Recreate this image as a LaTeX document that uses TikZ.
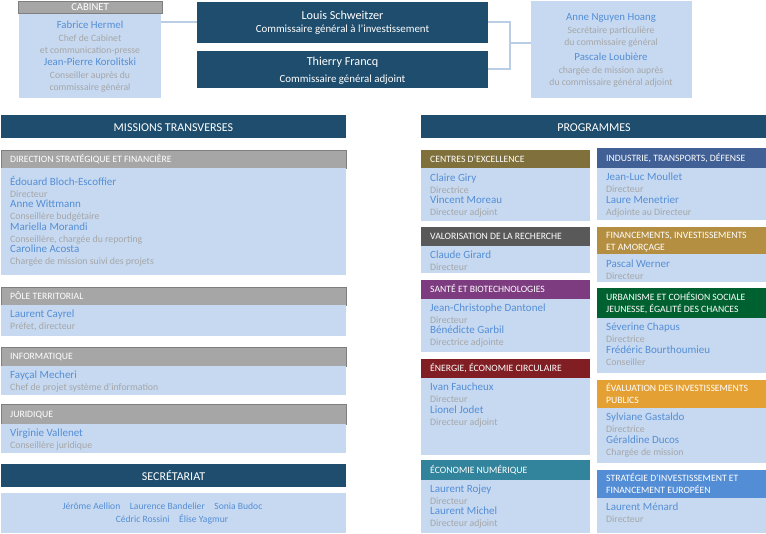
\documentclass[tikz,border=0pt]{standalone}
\usepackage{fontspec}
\setmainfont{Carlito}
\definecolor{dkblue}{RGB}{30,77,109}
\definecolor{bodyblue}{RGB}{198,217,241}
\definecolor{nameblue}{RGB}{85,142,213}
\definecolor{rolegray}{RGB}{166,166,166}
\definecolor{hgray}{RGB}{166,166,166}
\definecolor{hgrayb}{RGB}{127,127,127}
\definecolor{connblue}{RGB}{185,205,229}
\definecolor{colive}{RGB}{128,113,60}
\definecolor{cdgray}{RGB}{89,89,89}
\definecolor{cpurple}{RGB}{125,60,127}
\definecolor{cred}{RGB}{128,30,35}
\definecolor{cteal}{RGB}{49,132,155}
\definecolor{cind}{RGB}{64,96,150}
\definecolor{cgold}{RGB}{180,143,65}
\definecolor{cgreen}{RGB}{0,97,48}
\definecolor{corange}{RGB}{228,160,51}
\definecolor{cstrat}{RGB}{83,141,213}
\tikzset{
  boxbase/.style={anchor=north west, inner sep=0pt, outer sep=0pt, draw=none},
  bodybox/.style={boxbase, fill=bodyblue},
  darkbox/.style={boxbase, fill=dkblue},
  grayhdr/.style={boxbase, fill=hgray, draw=hgrayb, line width=0.8pt},
  colhdr/.style={boxbase, fill=#1},
  nm/.style={anchor=base west, inner sep=0pt, text=nameblue, font=\fontsize{11}{13}\selectfont},
  rl/.style={anchor=base west, inner sep=0pt, text=rolegray, font=\fontsize{9.8}{11}\selectfont},
  nmc/.style={nm, anchor=base, font=\fontsize{10.8}{13}\selectfont},
  rlc/.style={rl, anchor=base, font=\fontsize{9.7}{11}\selectfont},
  htxt/.style={anchor=base west, inner sep=0pt, text=white, font=\fontsize{9.7}{11}\selectfont},
  bigtxt/.style={anchor=base, inner sep=0pt, text=white, font=\fontsize{12.2}{14}\selectfont},
  conn/.style={draw=connblue, line width=2pt},
}
\newcommand\bx[6]{\node[#6, minimum width=#4-#2, minimum height=#5-#3] (#1) at (#2,#3) {};}
\newcommand\pp[5]{\node[nm] (#1n) at (#2,#3+0.3) {#4}; \node[rl] (#1r) at (#2,#3+11.7) {#5};}
\begin{document}
\begin{tikzpicture}[x=1pt,y=-1pt]
\useasboundingbox (0,0) rectangle (766,534);
% ---------- top ----------
\bx{cabh}{18}{1}{162}{13.5}{grayhdr}
\bx{cab}{19}{14}{161}{98}{bodybox}
\node[bigtxt, font=\fontsize{10.6}{12}\selectfont] (cabt) at (90,11) {CABINET};
\node[nmc] (c1) at (90,28.8) {Fabrice Hermel};
\node[rlc] (c2) at (90,41.3) {Chef de Cabinet};
\node[rlc] (c3) at (90,53.3) {et communication-presse};
\node[nmc] (c4) at (90,65.8) {Jean-Pierre Korolitski};
\node[rlc] (c5) at (90,78.3) {Conseiller auprès du};
\node[rlc] (c6) at (90,90.3) {commissaire général};

\bx{louis}{197}{2}{488}{43}{darkbox}
\bx{thierry}{197}{51}{488}{88}{darkbox}
\node[bigtxt] (l1) at (342.5,19.7) {Louis Schweitzer};
\node[bigtxt, font=\fontsize{10.9}{12}\selectfont] (l2) at (342.5,32.8) {Commissaire général à l’investissement};
\node[bigtxt] (t1) at (342.5,66) {Thierry Francq};
\node[bigtxt, font=\fontsize{10.9}{12}\selectfont] (t2) at (342.5,82.8) {Commissaire général adjoint};

\bx{anne}{531}{1}{692}{98}{bodybox}
\node[nmc] (a1) at (611,20.8) {Anne Nguyen Hoang};
\node[rlc] (a2) at (611,33.3) {Secrétaire particulière};
\node[rlc] (a3) at (611,45.3) {du commissaire général};
\node[nmc] (a4) at (611,60.8) {Pascale Loubière};
\node[rlc] (a5) at (611,73.3) {chargée de mission auprès};
\node[rlc] (a6) at (611,85.3) {du commissaire général adjoint};

\draw[conn] (louis.west) -- (louis.west -| cab.east);
\coordinate (brk) at (510,43);
\draw[conn] (louis.east) -- (louis.east -| brk) -- (thierry.east -| brk) -- (thierry.east);
\draw[conn] (brk) -- (brk -| anne.west);

% ---------- left column ----------
\bx{mt}{1}{115}{346}{138}{darkbox}
\node[bigtxt, font=\fontsize{12}{14}\selectfont] (mtt) at (173.5,131.2) {MISSIONS TRANSVERSES};

\bx{dirh}{1}{150}{346}{168}{grayhdr}
\bx{dir}{1}{168}{346}{275}{bodybox}
\node[htxt] (dirt) at (10,162.5) {DIRECTION STRATÉGIQUE ET FINANCIÈRE};
\pp{d1}{10}{185.5}{Édouard Bloch-Escoffier}{Directeur}
\pp{d2}{10}{207.5}{Anne Wittmann}{Conseillère budgétaire}
\pp{d3}{10}{230.5}{Mariella Morandi}{Conseillère, chargée du reporting}
\pp{d4}{10}{252.5}{Caroline Acosta}{Chargée de mission suivi des projets}

\bx{polh}{1}{287}{346}{305}{grayhdr}
\bx{pol}{1}{305}{346}{336}{bodybox}
\node[htxt] (polt) at (10,299.5) {PÔLE TERRITORIAL};
\pp{p1}{10}{317.5}{Laurent Cayrel}{Préfet, directeur}

\bx{infh}{1}{347}{346}{366}{grayhdr}
\bx{inf}{1}{366}{346}{395}{bodybox}
\node[htxt] (inft) at (10,359.5) {INFORMATIQUE};
\pp{i1}{10}{378.5}{Fayçal Mecheri}{Chef de projet système d’information}

\bx{jurh}{1}{404}{346}{424}{grayhdr}
\bx{jur}{1}{424}{346}{453}{bodybox}
\node[htxt] (jurt) at (10,417.5) {JURIDIQUE};
\pp{j1}{10}{436.5}{Virginie Vallenet}{Conseillère juridique}

\bx{sech}{1}{464}{346}{487}{darkbox}
\bx{sec}{1}{493}{346}{533}{bodybox}
\node[bigtxt, font=\fontsize{12}{14}\selectfont] (sect) at (173.5,480) {SECRÉTARIAT};
\node[nmc, font=\fontsize{9.6}{11}\selectfont] (s1) at (162.5,509.7) {Jérôme Aellion\hspace{1em}Laurence Bandelier\hspace{1em}Sonia Budoc};
\node[nmc, font=\fontsize{9.6}{11}\selectfont] (s2) at (172,522.7) {Cédric Rossini\hspace{1em}Élise Yagmur};

% ---------- programmes ----------
\bx{pg}{421}{115}{766}{138}{darkbox}
\node[bigtxt, font=\fontsize{12}{14}\selectfont] (pgt) at (594,131.2) {PROGRAMMES};

\bx{ceh}{421}{150}{590}{168}{colhdr=colive}
\bx{ce}{421}{168}{590}{221}{bodybox}
\node[htxt] (cet) at (430,162.5) {CENTRES D’EXCELLENCE};
\pp{e1}{430}{181.5}{Claire Giry}{Directrice}
\pp{e2}{430}{203.5}{Vincent Moreau}{Directeur adjoint}

\bx{vah}{421}{227}{590}{246}{colhdr=cdgray}
\bx{va}{421}{246}{590}{273}{bodybox}
\node[htxt] (vat) at (430,240) {VALORISATION DE LA RECHERCHE};
\pp{v1}{430}{258.5}{Claude Girard}{Directeur}

\bx{sah}{421}{280}{590}{299}{colhdr=cpurple}
\bx{sa}{421}{299}{590}{352}{bodybox}
\node[htxt] (sat) at (430,293) {SANTÉ ET BIOTECHNOLOGIES};
\pp{sa1}{430}{311.5}{Jean-Christophe Dantonel}{Directeur}
\pp{sa2}{430}{333.5}{Bénédicte Garbil}{Directrice adjointe}

\bx{enh}{421}{359}{590}{378}{colhdr=cred}
\bx{en}{421}{378}{590}{455}{bodybox}
\node[htxt] (ent) at (430,372) {ÉNERGIE, ÉCONOMIE CIRCULAIRE};
\pp{en1}{430}{390.5}{Ivan Faucheux}{Directeur}
\pp{en2}{430}{413.5}{Lionel Jodet}{Directeur adjoint}

\bx{nuh}{421}{460}{590}{480}{colhdr=cteal}
\bx{nu}{421}{480}{590}{533}{bodybox}
\node[htxt] (nut) at (430,473) {ÉCONOMIE NUMÉRIQUE};
\pp{nu1}{430}{492.5}{Laurent Rojey}{Directeur}
\pp{nu2}{430}{514.5}{Laurent Michel}{Directeur adjoint}

\bx{inh}{597}{148}{766}{168}{colhdr=cind}
\bx{in}{597}{168}{766}{220}{bodybox}
\node[htxt] (intt) at (606,162) {INDUSTRIE, TRANSPORTS, DÉFENSE};
\pp{in1}{606}{180.5}{Jean-Luc Moullet}{Directeur}
\pp{in2}{606}{203.5}{Laure Menetrier}{Adjointe au Directeur}

\bx{fih}{597}{227}{766}{254}{colhdr=cgold}
\bx{fi}{597}{254}{766}{282}{bodybox}
\node[htxt] (fit1) at (606,239) {FINANCEMENTS, INVESTISSEMENTS};
\node[htxt] (fit2) at (606,250.5) {ET AMORÇAGE};
\pp{fi1}{606}{267.5}{Pascal Werner}{Directeur}

\bx{urh}{597}{288}{766}{318}{colhdr=cgreen}
\bx{ur}{597}{318}{766}{373}{bodybox}
\node[htxt] (urt1) at (606,301) {URBANISME ET COHÉSION SOCIALE};
\node[htxt] (urt2) at (606,312.5) {JEUNESSE, ÉGALITÉ DES CHANCES};
\pp{ur1}{606}{330.5}{Séverine Chapus}{Directrice}
\pp{ur2}{606}{353.5}{Frédéric Bourthoumieu}{Conseiller}

\bx{evh}{597}{380}{766}{408}{colhdr=corange}
\bx{ev}{597}{408}{766}{463}{bodybox}
\node[htxt] (evt1) at (606,391.5) {ÉVALUATION DES INVESTISSEMENTS};
\node[htxt] (evt2) at (606,403.5) {PUBLICS};
\pp{ev1}{606}{420.5}{Sylviane Gastaldo}{Directrice}
\pp{ev2}{606}{443.5}{Géraldine Ducos}{Chargée de mission}

\bx{sth}{597}{470}{766}{498}{colhdr=cstrat}
\bx{st}{597}{498}{766}{533}{bodybox}
\node[htxt] (stt1) at (606,481.5) {STRATÉGIE D’INVESTISSEMENT ET};
\node[htxt] (stt2) at (606,493.5) {FINANCEMENT EUROPÉEN};
\pp{st1}{606}{510.5}{Laurent Ménard}{Directeur}
\end{tikzpicture}
\end{document}
